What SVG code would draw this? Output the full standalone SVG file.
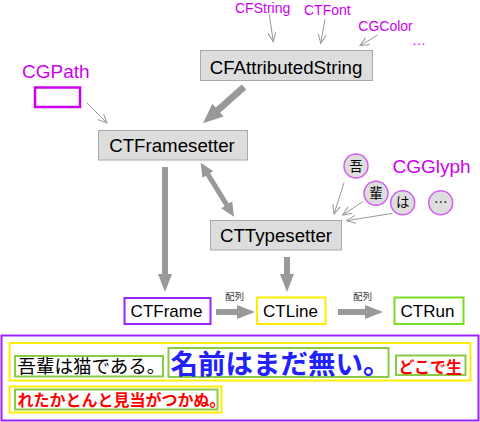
<svg xmlns="http://www.w3.org/2000/svg" width="480" height="422" viewBox="0 0 480 422">
<style>
.box{fill:#dddddd;stroke:#a8a8a8;stroke-width:1}
.bt{font-family:"Liberation Sans",Arial,sans-serif;font-size:18.7px;fill:#000;text-anchor:middle}
.st{font-family:"Liberation Sans",Arial,sans-serif;font-size:17px;fill:#000;text-anchor:middle}
.mg{font-family:"Liberation Sans",Arial,sans-serif;fill:#cc00ee}
.thin{stroke:#999;stroke-width:1;fill:none;marker-end:url(#open)}
.thick{stroke:#999;stroke-width:6;fill:none;marker-end:url(#big)}
.jp{font-family:"Noto Sans CJK JP","Noto Sans CJK SC",sans-serif}
.lbl{font-family:"Noto Sans CJK JP",sans-serif;font-size:9.5px;fill:#333;text-anchor:middle}
.gc{fill:#dddddd;stroke:#d060ee;stroke-width:1.5}
.gt{font-family:"Noto Sans CJK JP",sans-serif;font-size:13.5px;fill:#000;text-anchor:middle}
.yel{fill:none;stroke:#ffee00;stroke-width:2}
.grn{fill:none;stroke:#88cc44;stroke-width:2}
</style>
<defs>
<marker id="open" markerUnits="userSpaceOnUse" markerWidth="11" markerHeight="10" refX="9" refY="4.5" orient="auto">
<path d="M0,0.5 L9,4.5 L0,8.5" fill="none" stroke="#999" stroke-width="1"/>
</marker>
<marker id="big" markerUnits="userSpaceOnUse" markerWidth="18" markerHeight="16" refX="6" refY="8" orient="auto">
<path d="M0,1 L18,8 L0,15 z" fill="#999"/>
</marker>
<marker id="bigger" markerUnits="userSpaceOnUse" markerWidth="20" markerHeight="18" refX="6" refY="9" orient="auto">
<path d="M0,0.5 L20,9 L0,17.5 z" fill="#999"/>
</marker>
<marker id="med" markerUnits="userSpaceOnUse" markerWidth="14" markerHeight="14" refX="5" refY="7" orient="auto-start-reverse">
<path d="M0,0.5 L14,7 L0,13.5 z" fill="#999"/>
</marker>
</defs>

<g id="connectors">
<line class="thin" x1="269.3" y1="14.5" x2="273.3" y2="41.7"/>
<line class="thin" x1="325" y1="19.3" x2="320.7" y2="43.3"/>
<line class="thin" x1="377.7" y1="35" x2="360" y2="45.7"/>
<line class="thin" x1="87" y1="103" x2="107" y2="123"/>
<line class="thin" x1="344" y1="182.7" x2="334" y2="214"/>
<line class="thin" x1="362.7" y1="201.7" x2="342.7" y2="215"/>
<line class="thin" x1="392.7" y1="213.3" x2="346.7" y2="220.7"/>
<line stroke="#999" stroke-width="7" marker-end="url(#bigger)" x1="244" y1="87" x2="213.5" y2="114"/>
<line stroke="#999" stroke-width="5" marker-start="url(#med)" marker-end="url(#med)" x1="205.4" y1="170.4" x2="229.3" y2="209"/>
<line class="thick" x1="165" y1="167" x2="165" y2="280"/>
<line class="thick" x1="287" y1="257" x2="287" y2="280"/>
<line class="thick" x1="216" y1="312" x2="243" y2="312"/>
<line class="thick" x1="338" y1="312" x2="371" y2="312"/>
<text class="lbl" x="234.5" y="299.5">配列</text>
<text class="lbl" x="362.5" y="299.5">配列</text>
</g>

<g id="cfstring"><text class="mg" font-size="14" x="235" y="12.5">CFString</text></g>
<g id="ctfont"><text class="mg" font-size="14" x="304" y="14.5">CTFont</text></g>
<g id="cgcolor"><text class="mg" font-size="14" x="358.3" y="31">CGColor</text></g>
<g id="more-attrs"><text class="mg" font-size="14" x="412" y="45">…</text></g>

<g id="cfattributedstring">
<rect class="box" x="200.5" y="50.5" width="172" height="30"/>
<text class="bt" x="286" y="73.5">CFAttributedString</text>
</g>

<g id="cgpath">
<text class="mg" font-size="19" x="22" y="78">CGPath</text>
<rect x="35" y="87.5" width="45" height="19.5" fill="none" stroke="#cc00ee" stroke-width="2.5"/>
</g>

<g id="ctframesetter">
<rect class="box" x="98.5" y="130.5" width="149" height="29.5"/>
<text class="bt" x="172" y="151.5">CTFramesetter</text>
</g>

<g id="cgglyph">
<text class="mg" font-size="19" x="392.5" y="173">CGGlyph</text>
<circle class="gc" cx="356" cy="166" r="12"/>
<text class="gt" x="356" y="170.7">吾</text>
<circle class="gc" cx="376" cy="193.3" r="12"/>
<text class="gt" x="376" y="198">輩</text>
<circle class="gc" cx="402.7" cy="202.7" r="12"/>
<text class="gt" x="402.7" y="207.4">は</text>
<circle class="gc" cx="440.7" cy="202.7" r="12"/>
<text class="gt" x="440.7" y="207.4">…</text>
</g>

<g id="cttypesetter">
<rect class="box" x="210.5" y="220.5" width="131" height="29.5"/>
<text class="bt" x="276" y="242">CTTypesetter</text>
</g>

<g id="ctframe">
<rect x="124.5" y="298" width="86" height="26" fill="#fff" stroke="#9922ff" stroke-width="2"/>
<text class="st" x="166.5" y="316.8">CTFrame</text>
</g>
<g id="ctline">
<rect x="257" y="297.5" width="68.5" height="26.5" fill="#fff" stroke="#ffee00" stroke-width="2"/>
<text class="st" x="290.5" y="316.8">CTLine</text>
</g>
<g id="ctrun">
<rect x="394.5" y="297.5" width="69" height="26.5" fill="#fff" stroke="#77dd22" stroke-width="2"/>
<text class="st" x="427.5" y="316.8">CTRun</text>
</g>

<g id="frame-sample">
<rect x="1.5" y="335.5" width="477" height="85" fill="none" stroke="#9922ff" stroke-width="2"/>
<rect class="yel" x="9.5" y="343" width="461" height="37.5"/>
<rect class="yel" x="9.5" y="386.5" width="212" height="26"/>
<rect class="grn" x="15" y="356" width="148" height="20.5"/>
<rect class="grn" x="168.5" y="348" width="220" height="29"/>
<rect class="grn" x="396" y="355.5" width="69.5" height="19.5"/>
<rect class="grn" x="15" y="389.5" width="202.5" height="20"/>
<text class="jp" x="17.5" y="373" font-size="18.5" fill="#000">吾輩は猫である。</text>
<text class="jp" x="170.5" y="373.5" font-size="27.5" font-weight="bold" fill="#2222ff">名前はまだ無い。</text>
<text class="jp" x="398.5" y="372.5" font-size="16" font-weight="bold" fill="#ff0000">どこで生</text>
<text class="jp" x="17.5" y="405.5" font-size="16" font-weight="bold" fill="#ff0000">れたかとんと見当がつかぬ。</text>
</g>
</svg>
